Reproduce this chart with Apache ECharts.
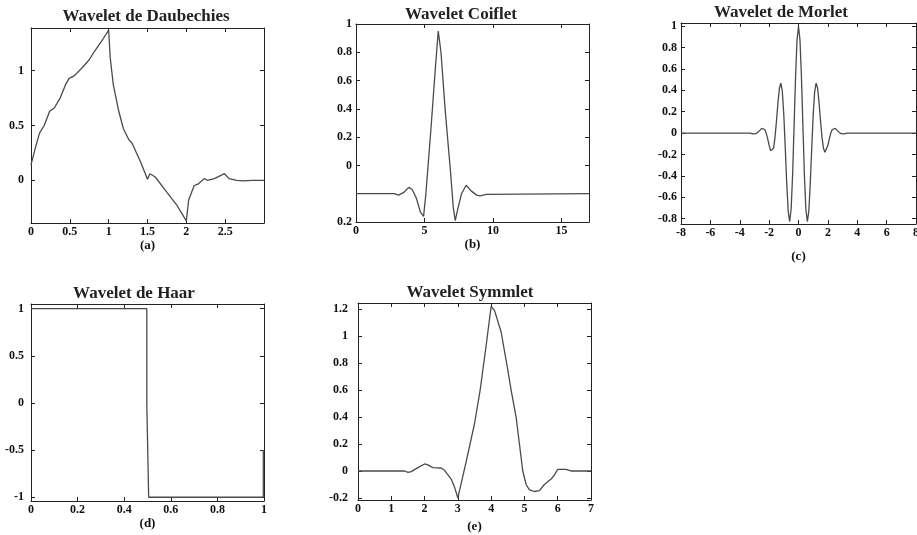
<!DOCTYPE html>
<html>
<head>
<meta charset="utf-8">
<script src="https://cdn.jsdelivr.net/npm/echarts@6/dist/echarts.min.js"></script>
<style>
html, body { margin: 0; background: #fff; }
#main { width: 917px; height: 535px; }
</style>
</head>
<body>
<div id="main"></div>
<script>
// (a) Daubechies
var daubX = [0, 0.05, 0.11, 0.17, 0.24, 0.3, 0.375, 0.45, 0.49, 0.55, 0.65, 0.75, 0.82, 0.9, 1.0, 1.02, 1.06, 1.13, 1.19, 1.26,
  1.3, 1.41, 1.5, 1.53, 1.6, 1.75, 1.88, 2.0, 2.03, 2.1, 2.16, 2.23, 2.27, 2.36, 2.49, 2.55, 2.65, 2.73, 2.85, 3.0];
var daubY = [0.14, 0.28, 0.43, 0.50, 0.63, 0.66, 0.75, 0.88, 0.93, 0.95, 1.02, 1.10, 1.18, 1.26, 1.37, 1.12, 0.87, 0.63, 0.47, 0.37,
  0.34, 0.17, 0.01, 0.06, 0.03, -0.11, -0.23, -0.37, -0.18, -0.05, -0.03, 0.015, 0, 0.015, 0.06, 0.015, 0, -0.006, 0, 0];
var daubXTicks = [0, 0.5, 1, 1.5, 2, 2.5];
var daubYTicks = [0, 0.5, 1];

// (b) Coiflet
var coifX = [0, 2.8, 3.1, 3.5, 3.85, 4.1, 4.4, 4.7, 4.93, 5.1, 5.5, 5.8, 6.0, 6.2, 6.5, 6.9, 7.1, 7.24, 7.4, 7.7, 8.04, 8.4, 8.8, 9.06, 9.5, 17];
var coifY = [-0.2, -0.2, -0.21, -0.19, -0.155, -0.17, -0.23, -0.33, -0.36, -0.2, 0.3, 0.7, 0.95, 0.8, 0.4, -0.05, -0.3, -0.39, -0.32, -0.2,
  -0.14, -0.18, -0.21, -0.215, -0.205, -0.2];
var coifXTicks = [0, 5, 10, 15];
var coifYTicks = [-0.4, 0, 0.2, 0.4, 0.6, 0.8, 1];

// (c) Morlet
var morletX = [-8, -3.3, -3.2, -3.1, -3.0, -2.9, -2.8, -2.7, -2.6, -2.5, -2.4, -2.3, -2.2, -2.1, -2.0, -1.9, -1.8, -1.7, -1.6, -1.5, -1.4,
  -1.3, -1.2, -1.1, -1.0, -0.9, -0.8, -0.7, -0.6, -0.5, -0.4, -0.3, -0.2, -0.1, 0, 0.1, 0.2, 0.3, 0.4, 0.5, 0.6, 0.7, 0.8, 0.9, 1.0,
  1.1, 1.2, 1.3, 1.4, 1.5, 1.6, 1.7, 1.8, 1.9, 2.0, 2.1, 2.2, 2.3, 2.4, 2.5, 2.6, 2.7, 2.8, 2.9, 3.0, 3.1, 3.2, 3.3, 8];
var morletY = [0, 0, -0.006, -0.008, -0.008, -0.005, 0.003, 0.016, 0.031, 0.044, 0.047, 0.034, 0.000, -0.052, -0.114, -0.164, -0.180,
  -0.142, -0.040, 0.113, 0.283, 0.420, 0.467, 0.387, 0.172, -0.141, -0.475, -0.733, -0.827, -0.707, -0.384, 0.068, 0.530, 0.873, 1.000,
  0.873, 0.530, 0.068, -0.384, -0.707, -0.827, -0.733, -0.475, -0.141, 0.172, 0.387, 0.467, 0.420, 0.283, 0.113, -0.040, -0.142,
  -0.180, -0.164, -0.114, -0.052, 0.000, 0.034, 0.047, 0.044, 0.031, 0.016, 0.003, -0.005, -0.008, -0.008, -0.006, 0, 0];
var morletXTicks = [-8, -6, -4, -2, 0, 2, 4, 6, 8];
var morletYTicks = [-0.8, -0.6, -0.4, -0.2, 0, 0.2, 0.4, 0.6, 0.8, 1];

// (d) Haar
var haarX = [0, 0.497, 0.497, 0.505, 0.505, 0.997, 0.997];
var haarY = [1, 1, 0, 0, -1, -1, -0.5];
var haarXTicks = [0, 0.2, 0.4, 0.6, 0.8, 1];
var haarYTicks = [-1, -0.5, 0, 0.5, 1];

// (e) Symmlet
var symmX = [0, 1.4, 1.5, 1.6, 1.8, 2.0, 2.1, 2.25, 2.5, 2.6, 2.8, 2.9, 3.0, 3.25, 3.5, 3.67, 3.85, 4.0, 4.1, 4.3,
  4.5, 4.6, 4.75, 4.85, 4.95, 5.05, 5.15, 5.3, 5.45, 5.6, 5.8, 5.9, 6.0, 6.25, 6.4, 7];
var symmY = [0, 0, -0.01, -0.005, 0.025, 0.052, 0.045, 0.025, 0.022, 0.005, -0.06, -0.12, -0.2, 0.07, 0.35, 0.6, 0.93, 1.22, 1.19, 1.03,
  0.75, 0.6, 0.4, 0.2, 0, -0.1, -0.14, -0.152, -0.145, -0.1, -0.06, -0.03, 0.012, 0.012, 0, 0];
var symmXTicks = [0, 1, 2, 3, 4, 5, 6, 7];
var symmYTicks = [-0.2, 0, 0.2, 0.4, 0.6, 0.8, 1, 1.2];

function pairs(xs, ys) {
  return xs.map(function (x, i) { return [x, ys[i]]; });
}

var panels = [
  { title: 'Wavelet de Daubechies', tag: '(a)', xs: daubX, ys: daubY, xt: daubXTicks, yt: daubYTicks,
    xr: [0, 3], yr: [-0.39, 1.39], box: [31, 28, 233, 195], tp: [146, 8], tagGap: 10, yMargin: 7 },
  { title: 'Wavelet Coiflet', tag: '(b)', xs: coifX, ys: coifY, xt: coifXTicks, yt: coifYTicks,
    xr: [0, 17], yr: [-0.4, 1], box: [356, 24, 233, 198], tp: [461, 6], tagGap: 9, yMargin: 4 },
  { title: 'Wavelet de Morlet', tag: '(c)', xs: morletX, ys: morletY, xt: morletXTicks, yt: morletYTicks,
    xr: [-8, 8], yr: [-0.85, 1.03], box: [681, 23, 235, 201], tp: [781, 4], tagGap: 26, yMargin: 4 },
  { title: 'Wavelet de Haar', tag: '(d)', xs: haarX, ys: haarY, xt: haarXTicks, yt: haarYTicks,
    xr: [0, 1], yr: [-1.04, 1.05], box: [31, 304, 233, 197], tp: [134, 285], tagGap: 12, yMargin: 7 },
  { title: 'Wavelet Symmlet', tag: '(e)', xs: symmX, ys: symmY, xt: symmXTicks, yt: symmYTicks,
    xr: [0, 7], yr: [-0.215, 1.245], box: [358, 303, 233, 197], tp: [470, 284], tagGap: 20, yMargin: 10 }
];

var font = 'Liberation Serif';
var axisColor = '#222';
var lineColor = '#4a4a4a';

function labelFmt(i) {
  return function (v) {
    // the Coiflet panel prints "0.2" at its lowest tick and nothing at -0.2
    if (i === 1 && v === -0.4) return '0.2';
    return String(v);
  };
}

var grids = [], xAxes = [], yAxes = [], titles = [], series = [];

panels.forEach(function (p, i) {
  grids.push({ left: p.box[0], top: p.box[1], width: p.box[2], height: p.box[3], containLabel: false, outerBoundsMode: 'none' });
  titles.push({
    text: p.title, left: p.tp[0], top: p.tp[1], textAlign: 'center', padding: 0,
    textStyle: { fontFamily: font, fontWeight: 'bold', fontSize: 17, color: '#222' }
  });
  var lineSt = { onZero: false, lineStyle: { color: axisColor, width: 1 } };
  xAxes.push({
    type: 'value', gridIndex: i, position: 'bottom', min: p.xr[0], max: p.xr[1],
    axisLine: lineSt,
    axisTick: { inside: true, length: 4, customValues: p.xt, lineStyle: { color: axisColor } },
    axisLabel: { customValues: p.xt, margin: 3, fontFamily: font, fontWeight: 'bold', fontSize: 12, color: '#111', formatter: labelFmt(-1) },
    splitLine: { show: false },
    name: p.tag, nameLocation: 'middle', nameGap: p.tagGap,
    nameTextStyle: { fontFamily: font, fontWeight: 'bold', fontSize: 13, color: '#111' }
  });
  xAxes.push({
    type: 'value', gridIndex: i, position: 'top', min: p.xr[0], max: p.xr[1],
    axisLine: lineSt,
    axisTick: { inside: true, length: 4, customValues: p.xt, lineStyle: { color: axisColor } },
    axisLabel: { show: false }, splitLine: { show: false }
  });
  yAxes.push({
    type: 'value', gridIndex: i, position: 'left', min: p.yr[0], max: p.yr[1],
    axisLine: lineSt,
    axisTick: { inside: true, length: 4, customValues: p.yt, lineStyle: { color: axisColor } },
    axisLabel: { customValues: p.yt, margin: p.yMargin, fontFamily: font, fontWeight: 'bold', fontSize: 12, color: '#111', formatter: labelFmt(i) },
    splitLine: { show: false }
  });
  yAxes.push({
    type: 'value', gridIndex: i, position: 'right', min: p.yr[0], max: p.yr[1],
    axisLine: lineSt,
    axisTick: { inside: true, length: 4, customValues: p.yt, lineStyle: { color: axisColor } },
    axisLabel: { show: false }, splitLine: { show: false }
  });
  series.push({
    type: 'line', xAxisIndex: i * 2, yAxisIndex: i * 2, data: pairs(p.xs, p.ys),
    showSymbol: false, symbol: 'none', clip: true,
    lineStyle: { color: lineColor, width: 1.3 }
  });
});

var chart = echarts.init(document.getElementById('main'));
chart.setOption({
  backgroundColor: '#fff',
  animation: false,
  title: titles,
  grid: grids,
  xAxis: xAxes,
  yAxis: yAxes,
  series: series
});
</script>
</body>
</html>
